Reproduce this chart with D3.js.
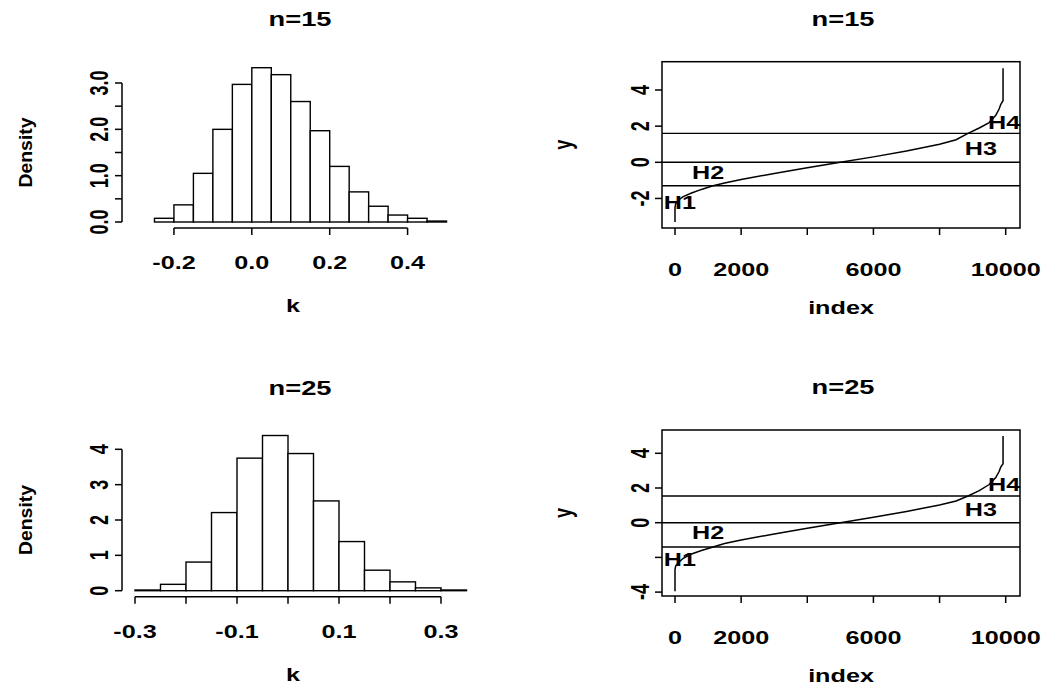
<!DOCTYPE html>
<html><head><meta charset="utf-8">
<script src="https://cdn.jsdelivr.net/npm/d3@7"></script>
<style>body{margin:0;background:#fff}text{font-family:"Liberation Sans",Arial,sans-serif;font-weight:bold}</style>
</head><body>
<svg width="1044" height="688"></svg>
<script>
// histogram bins (width 0.05) and densities
const bins15 = [-0.3,-0.25,-0.2,-0.15,-0.1,-0.05,0,0.05,0.1,0.15,0.2,0.25,0.3,0.35,0.4,0.45,0.5,0.55];
const dens15 = [0,0.08,0.37,1.05,2.0,2.97,3.33,3.18,2.6,1.97,1.2,0.65,0.34,0.15,0.08,0.02,0];
const bins25 = [-0.3,-0.25,-0.2,-0.15,-0.1,-0.05,0,0.05,0.1,0.15,0.2,0.25,0.3,0.35];
const dens25 = [0.02,0.18,0.81,2.21,3.75,4.39,3.88,2.54,1.39,0.58,0.25,0.08,0.02];

// sorted sample curves (index, value)
const idx15 = [0,0,20,100,250,500,800,1150,1500,2000,3000,4000,5000,6000,7000,8000,8500,8860,9200,9500,9700,9800,9850,9900,9920,9920];
const val15 = [-3.3,-2.5,-2.3,-2.1,-1.9,-1.7,-1.5,-1.3,-1.15,-0.95,-0.62,-0.3,0,0.3,0.62,1.0,1.25,1.6,1.9,2.2,2.6,2.95,3.2,3.35,3.4,5.2];
const idx25 = [0,0,20,100,250,500,800,1150,1500,2000,3000,4000,5000,6000,7000,8000,8500,8860,9200,9500,9700,9800,9850,9900,9920,9920];
const val25 = [-3.95,-2.7,-2.5,-2.3,-2.05,-1.8,-1.6,-1.4,-1.2,-1.0,-0.65,-0.32,0,0.32,0.65,1.02,1.25,1.54,1.85,2.2,2.6,2.95,3.2,3.35,3.4,5.0];
const hLines15 = [1.6,0,-1.3];
const hLines25 = [1.54,0,-1.4];
const hLabels = ["H1","H2","H3","H4"];
const hLabX = [150,1000,9250,9950];
const hLab15 = [-2.25,-0.55,0.75,2.2];
const hLab25 = [-2.15,-0.6,0.75,2.2];

const svg = d3.select("svg");
const FS = 18, SX = 1.4;

// text stretched horizontally on screen, like the reference
function txt(g, x, y, s, opt = {}) {
  const rot = opt.rot ? " rotate(-90)" : "";
  return g.append("text")
    .attr("transform", `translate(${x},${y}) scale(${SX},1)${rot}`)
    .attr("text-anchor", "middle").attr("dy", opt.dy || null)
    .attr("font-size", opt.fs || FS).text(s);
}

function yAxisLeft(g, y, x0, ticks, fmt) {
  g.append("line").attr("x1",x0).attr("x2",x0).attr("y1",y(ticks[0])).attr("y2",y(ticks[ticks.length-1])).attr("stroke","#000").attr("stroke-width",1.5);
  ticks.forEach(t => {
    g.append("line").attr("x1",x0-7).attr("x2",x0).attr("y1",y(t)).attr("y2",y(t)).attr("stroke","#000").attr("stroke-width",1.5);
    const s = fmt(t);
    if (s !== "") txt(g, x0-14, y(t), s, {rot:true});
  });
}
function xAxisBottom(g, x, y0, ticks, fmt, show) {
  g.append("line").attr("x1",x(ticks[0])).attr("x2",x(ticks[ticks.length-1])).attr("y1",y0).attr("y2",y0).attr("stroke","#000").attr("stroke-width",1.5);
  ticks.forEach((t,i) => {
    g.append("line").attr("x1",x(t)).attr("x2",x(t)).attr("y1",y0).attr("y2",y0+7).attr("stroke","#000").attr("stroke-width",1.5);
    if (show[i]) txt(g, x(t), y0+41, fmt(t));
  });
}

function hist(bins, dens, o) {
  const g = svg.append("g");
  const x = d3.scaleLinear().domain([-0.3, bins[bins.length-1]]).range([135, o.xEnd]);
  const y = d3.scaleLinear().domain([0, o.yRef]).range([o.y0, o.yRefPx]);
  g.selectAll("rect").data(dens).join("rect")
    .attr("x",(d,i)=>x(bins[i])).attr("width",(d,i)=>x(bins[i+1])-x(bins[i]))
    .attr("y",d=>y(d)).attr("height",d=>y(0)-y(d))
    .attr("fill","#fff").attr("stroke","#000").attr("stroke-width",1.4);
  yAxisLeft(g, y, 122, o.yTicks, o.yFmt);
  xAxisBottom(g, x, o.y0+6, o.xTicks, o.xFmt, o.xShow);
  txt(g, 300, o.y0-196, o.title, {fs:19.5});
  txt(g, 293, o.y0+90, "k");
  g.append("text").attr("transform",`translate(32,${(o.y0+o.yRefPx)/2}) rotate(-90)`).attr("text-anchor","middle")
    .attr("font-size",FS).attr("textLength",70).attr("lengthAdjust","spacingAndGlyphs").text("Density");
}

function qplot(idx, val, hl, labY, o) {
  const g = svg.append("g");
  const x = d3.scaleLinear().domain([0,10000]).range([675,1005.7]);
  const y = d3.scaleLinear().domain([0,4]).range([o.zero, o.four]);
  g.append("rect").attr("x",662).attr("y",o.top).attr("width",358).attr("height",o.bot-o.top)
    .attr("fill","none").attr("stroke","#000").attr("stroke-width",1.5);
  hl.forEach(h => g.append("line").attr("x1",662).attr("x2",1020).attr("y1",y(h)).attr("y2",y(h)).attr("stroke","#000").attr("stroke-width",1.4));
  g.append("path").datum(d3.range(idx.length))
    .attr("d", d3.line().x(i=>x(idx[i])).y(i=>y(val[i])))
    .attr("fill","none").attr("stroke","#000").attr("stroke-width",1.5);
  hLabels.forEach((t,i) => txt(g, x(hLabX[i]), y(labY[i]), t, {dy:"0.35em"}));
  o.yTicks.forEach((t,i) => {
    g.append("line").attr("x1",655).attr("x2",662).attr("y1",y(t)).attr("y2",y(t)).attr("stroke","#000").attr("stroke-width",1.5);
    if (o.yShow[i]) txt(g, 649, y(t), t, {rot:true});
  });
  const xt = [0,2000,4000,6000,8000,10000];
  xt.forEach(t => g.append("line").attr("x1",x(t)).attr("x2",x(t)).attr("y1",o.bot).attr("y2",o.bot+7).attr("stroke","#000").attr("stroke-width",1.5));
  [0,2000,6000,10000].forEach(t => txt(g, x(t), o.bot+48, t));
  txt(g, 843, o.top-36, o.title, {fs:19.5});
  txt(g, 841, o.bot+86, "index");
  txt(g, 572, (o.top+o.bot)/2, "y", {rot:true});
}

hist(bins15, dens15, {xEnd:466, y0:222, yRef:3, yRefPx:83, yTicks:[0,0.5,1,1.5,2,2.5,3],
  yFmt:t=>(t%1===0? t.toFixed(1):""), xTicks:[-0.2,0,0.2,0.4], xFmt:d=>d.toFixed(1), xShow:[true,true,true,true], title:"n=15"});
hist(bins25, dens25, {xEnd:466.5, y0:590.7, yRef:4, yRefPx:449.3, yTicks:[0,1,2,3,4],
  yFmt:d=>String(d), xTicks:[-0.3,-0.2,-0.1,0,0.1,0.2,0.3], xFmt:d=>d.toFixed(1), xShow:[true,false,true,false,true,false,true], title:"n=25"});
qplot(idx15, val15, hLines15, hLab15, {zero:162.3, four:90, top:61.7, bot:228, yTicks:[-2,0,2,4], yShow:[true,true,true,true], title:"n=15"});
qplot(idx25, val25, hLines25, hLab25, {zero:522.7, four:453.3, top:430, bot:596, yTicks:[-4,-2,0,2,4], yShow:[true,false,true,true,true], title:"n=25"});
</script>
</body></html>
